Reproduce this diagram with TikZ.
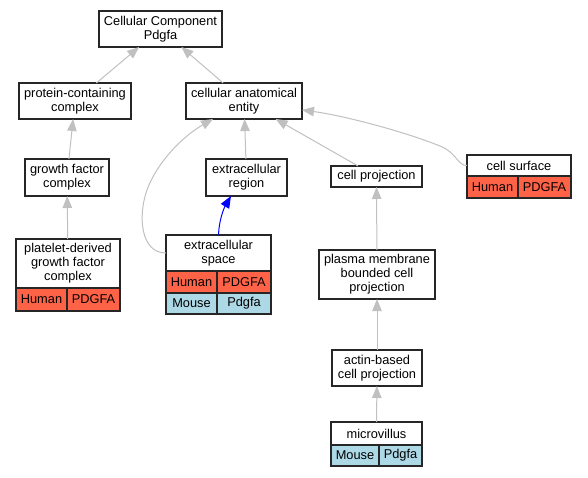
\documentclass[tikz,border=0pt]{standalone}
\usepackage{fontspec}
\setmainfont{Liberation Sans}
\usetikzlibrary{arrows.meta,calc}
\definecolor{human}{HTML}{FF6347}
\definecolor{mouse}{HTML}{ADD8E6}
\definecolor{edgegray}{HTML}{C0C0C0}
\tikzset{
 box/.style={draw=black!85, line width=1.2pt, fill=white, align=center, inner sep=0pt, outer sep=0pt, font=\fontsize{12.8}{14}\selectfont},
 hcell/.style={box, fill=human},
 mcell/.style={box, fill=mouse},
 edge/.style={draw=edgegray, line width=1pt, -{Triangle[length=12pt,width=9.5pt]}},
 bedge/.style={draw=blue, line width=1pt, -{Triangle[length=12pt,width=9.5pt]}}
}
\begin{document}
\begin{tikzpicture}[x=1pt,y=-1pt]
\useasboundingbox (0,0) rectangle (588,477);
% plain nodes
\node[box, minimum width=123pt, minimum height=36pt] (cc) at (160.5,29) {Cellular Component\\Pdgfa};
\node[box, minimum width=112pt, minimum height=36pt] (pcc) at (75,101) {protein-containing\\complex};
\node[box, minimum width=116pt, minimum height=36pt] (cae) at (244,101) {cellular anatomical\\entity};
\node[box, minimum width=84pt, minimum height=37pt] (gfc) at (67,177.5) {growth factor\\complex};
\node[box, minimum width=81pt, minimum height=37pt] (ecr) at (246.5,177.5) {extracellular\\region};
\node[box, minimum width=91pt, minimum height=21pt] (cp) at (376.5,176.5) {cell projection};
\node[box, minimum width=116pt, minimum height=49pt] (pm) at (377,274.5) {plasma membrane\\bounded cell\\projection};
\node[box, minimum width=90pt, minimum height=36pt] (ab) at (377,368) {actin-based\\cell projection};
% cell surface
\node[box, minimum width=104pt, minimum height=21pt] (cs) at (519,165.5) {cell surface};
\node[hcell, minimum width=51pt, minimum height=22pt] (csh) at (492.5,187) {Human};
\node[hcell, minimum width=53pt, minimum height=22pt] (csg) at (544.5,187) {PDGFA};
% platelet-derived growth factor complex
\node[box, minimum width=104pt, minimum height=49pt] (pdgf) at (68,263.5) {platelet-derived\\growth factor\\complex};
\node[hcell, minimum width=51pt, minimum height=23pt] (pdgfh) at (41.5,299.5) {Human};
\node[hcell, minimum width=53pt, minimum height=23pt] (pdgfg) at (93.5,299.5) {PDGFA};
% extracellular space
\node[box, minimum width=105pt, minimum height=36pt] (es) at (218.5,253) {extracellular\\space};
\node[hcell, minimum width=51pt, minimum height=22pt] (esh) at (191.5,282) {Human};
\node[hcell, minimum width=54pt, minimum height=22pt] (esg) at (244,282) {PDGFA};
\node[mcell, minimum width=51pt, minimum height=21pt] (esm) at (191.5,303.5) {Mouse};
\node[mcell, minimum width=54pt, minimum height=21pt] (esp) at (244,303.5) {Pdgfa};
% microvillus
\node[box, minimum width=91pt, minimum height=23pt] (mv) at (376.5,433.5) {microvillus};
\node[mcell, minimum width=48pt, minimum height=21pt] (mvm) at (355,455.5) {Mouse};
\node[mcell, minimum width=43pt, minimum height=21pt] (mvp) at (400.5,455.5) {Pdgfa};
% connector end points
\coordinate (caeA) at ([xshift=-31pt]cae.south);
\coordinate (caeB) at ([yshift=-9pt]cae.east);
\coordinate (ecrA) at ([xshift=-15.5pt]ecr.south);
% edges
\draw[edge] (pcc) -- (cc);
\draw[edge] (cae) -- (cc);
\draw[edge] (gfc) -- (pcc);
\draw[edge] (pdgf) -- (gfc);
\draw[edge] (ecr) -- (cae);
\draw[edge] (cp) -- (cae);
\draw[edge] (pm) -- (cp);
\draw[edge] (ab) -- (pm);
\draw[edge] (mv) -- (ab);
\draw[edge] (es.west) .. controls (140,253) and (138,215) .. (147,190) .. controls (158,160) and (185,135) .. (caeA);
\draw[edge] (cs.west) .. controls (458,166) and (456,152) .. (440,146) .. controls (400,130) and (340,115) .. (caeB);
\draw[bedge] (es.north) .. controls (219,220) and (224,208) .. (ecrA);
\end{tikzpicture}
\end{document}
